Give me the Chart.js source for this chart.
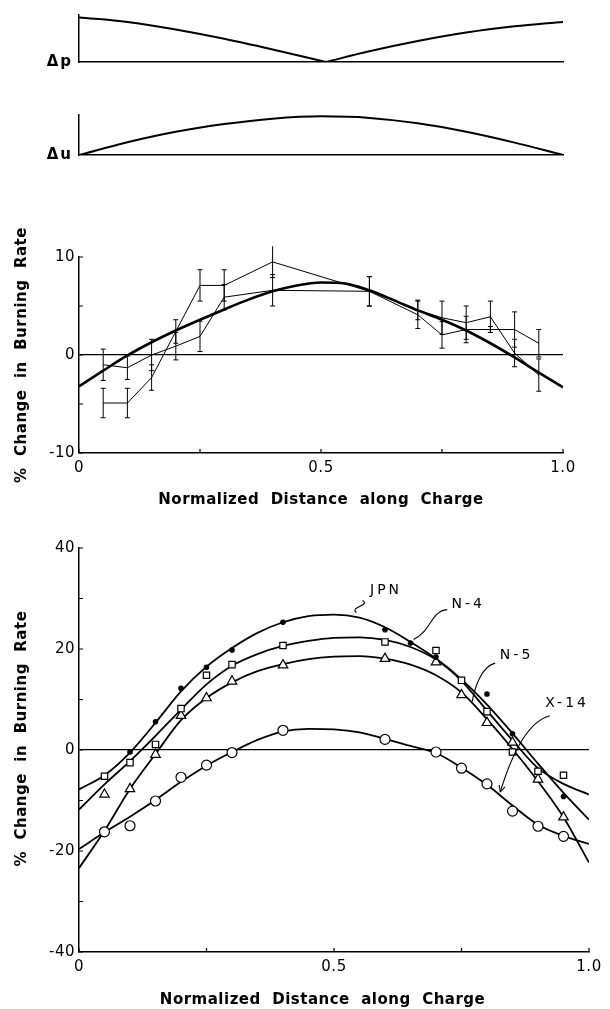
<!DOCTYPE html>
<html>
<head>
<meta charset="utf-8">
<script src="https://cdn.jsdelivr.net/npm/chart.js@4.4.1/dist/chart.umd.min.js"></script>
<style>
  html, body { margin: 0; padding: 0; background: #fff; }
  #wrap { position: relative; width: 610px; height: 1009px; overflow: hidden; }
  canvas { position: absolute; left: 0; }
</style>
</head>
<body>
<div id="wrap">
  <canvas id="dp" width="610" height="80" style="top:0px"></canvas>
  <canvas id="du" width="610" height="70" style="top:100px"></canvas>
  <canvas id="mid" width="610" height="320" style="top:200px"></canvas>
  <canvas id="low" width="610" height="479" style="top:530px"></canvas>
</div>
<script>
// top sketches: pressure and velocity amplitude along the charge
const dpLeftX = [0, 0.1, 0.2, 0.3, 0.4, 0.51];
const dpLeftY = [1.0, 0.9, 0.73, 0.52, 0.28, 0];
const dpRightX = [0.51, 0.6, 0.7, 0.8, 0.9, 1.0];
const dpRightY = [0, 0.24, 0.47, 0.66, 0.8, 0.9];
const duX = [0, 0.1, 0.2, 0.3, 0.4, 0.5, 0.6, 0.7, 0.8, 0.9, 1.0];
const duY = [0, 0.33, 0.6, 0.8, 0.94, 1.0, 0.96, 0.82, 0.6, 0.32, 0];

// middle panel: two runs with error bars and the fitted curve
const midX = [0.05, 0.1, 0.15, 0.2, 0.25, 0.3, 0.4, 0.6, 0.7, 0.75, 0.8, 0.85, 0.9, 0.95];
const runA = [-4.9, -4.9, -2.3, 2.4, 7.1, 7.1, 9.5, 6.5, 4.6, 3.8, 3.3, 3.9, 0.2, -2.05];
const errA = [1.5, 1.5, 1.3, 1.2, 1.6, 1.6, 1.6, 1.5, 1.0, 1.7, 1.7, 1.6, 1.4, 1.65];
const runB = [-1.0, -1.3, 0.0, 0.9, 1.9, 5.9, 6.6, 6.5, 4.1, 2.05, 2.6, 2.6, 2.6, 1.2];
const errB = [1.6, 1.2, 1.6, 1.4, 1.55, 1.3, 1.6, 1.5, 1.4, 1.35, 1.35, 0.3, 1.8, 1.4];
const fitX = [0, 0.05, 0.1, 0.15, 0.2, 0.25, 0.3, 0.35, 0.4, 0.45, 0.5, 0.55, 0.6, 0.65, 0.7, 0.75, 0.8, 0.85, 0.9, 0.95, 1.0];
const midFit = [-3.2, -1.6, -0.05, 1.3, 2.5, 3.6, 4.65, 5.65, 6.5, 7.1, 7.4, 7.3, 6.6, 5.6, 4.55, 3.6, 2.5, 1.2, -0.25, -1.8, -3.3];

// bottom panel: four propellants
const jpnX = [0.1, 0.15, 0.2, 0.25, 0.3, 0.4, 0.6, 0.65, 0.7, 0.8, 0.85, 0.95];
const jpnY = [-0.4, 5.6, 12.2, 16.4, 19.8, 25.3, 23.8, 21.2, 18.4, 11.1, 3.2, -9.2];
const n4Y = [-5.2, -2.5, 1.1, 8.2, 14.8, 16.9, 20.7, 21.4, 19.7, 13.8, 7.6, -0.4, -4.2, -5.0];
const n5Y = [-8.8, -7.7, -0.9, 6.8, 10.3, 13.6, 16.8, 18.1, 17.4, 10.9, 5.4, 1.5, -5.8, -13.3];
const x14Y = [-16.2, -15.0, -10.1, -5.4, -3.0, -0.5, 3.9, 2.1, -0.4, -3.6, -6.7, -12.1, -15.1, -17.1];
const jpnFit = [-7.8, -5.0, -0.5, 5.4, 11.6, 16.5, 20.2, 23.2, 25.3, 26.5, 26.8, 26.2, 24.3, 21.4, 18.1, 14.0, 9.0, 3.3, -2.7, -8.5, -13.8];
const n4Fit = [-11.8, -6.8, -2.2, 2.8, 8.0, 13.0, 16.7, 19.0, 20.6, 21.6, 22.2, 22.3, 21.8, 20.4, 17.9, 13.7, 7.8, 1.9, -3.6, -6.7, -8.8];
const n5Fit = [-23.4, -16.0, -7.7, -0.8, 5.9, 10.3, 13.4, 15.6, 17.0, 18.0, 18.5, 18.6, 18.1, 16.9, 14.8, 11.4, 6.1, 0.2, -6.2, -13.3, -22.3];
const x14Fit = [-19.6, -16.3, -13.2, -9.9, -6.3, -3.1, -0.4, 2.0, 3.7, 4.2, 4.1, 3.5, 2.2, 0.8, -0.6, -3.5, -6.9, -11.0, -14.8, -17.0, -18.6];

Chart.defaults.font.family = "'DejaVu Sans', sans-serif";
Chart.defaults.color = '#000';

const pts = (xs, ys) => xs.map((x, i) => ({ x: x, y: ys[i] }));

function barPts(xs, ys, es) {
  const out = [];
  xs.forEach((x, i) => {
    out.push({ x: x, y: ys[i] - es[i] }, { x: x, y: ys[i] + es[i] }, { x: x, y: null });
  });
  return out;
}

// letter spacing for the lettering
const spacing = {
  id: 'spacing',
  beforeDraw(chart, args, opts) {
    chart.ctx.letterSpacing = opts.px || '0px';
  }
};

// tick marks pointing into the plot
const inTicks = {
  id: 'inTicks',
  afterDraw(chart, args, opts) {
    if (!opts.len) return;
    const { ctx, chartArea, scales } = chart;
    ctx.save();
    ctx.strokeStyle = '#000';
    ctx.lineWidth = 1.2;
    ctx.beginPath();
    scales.y.ticks.forEach(t => {
      const py = scales.y.getPixelForValue(t.value);
      ctx.moveTo(chartArea.left, py);
      ctx.lineTo(chartArea.left + opts.len, py);
    });
    scales.x.ticks.forEach(t => {
      const px = scales.x.getPixelForValue(t.value);
      ctx.moveTo(px, chartArea.bottom);
      ctx.lineTo(px, chartArea.bottom - opts.len);
    });
    ctx.stroke();
    ctx.restore();
  }
};

// curve names with leader lines
const notes = {
  id: 'notes',
  afterDraw(chart, args, opts) {
    if (!opts.items) return;
    const { ctx, scales } = chart;
    const X = v => scales.x.getPixelForValue(v);
    const Y = v => scales.y.getPixelForValue(v);
    ctx.save();
    ctx.strokeStyle = '#000';
    ctx.fillStyle = '#000';
    ctx.lineWidth = 1.1;
    ctx.font = opts.font;
    ctx.letterSpacing = opts.spacing;
    ctx.textAlign = 'center';
    ctx.textBaseline = 'middle';
    opts.items.forEach(it => {
      ctx.fillText(it.text, X(it.at[0]), Y(it.at[1]));
      const p = it.path.map(q => [X(q[0]), Y(q[1])]);
      ctx.beginPath();
      ctx.moveTo(p[0][0], p[0][1]);
      ctx.bezierCurveTo(p[1][0], p[1][1], p[2][0], p[2][1], p[3][0], p[3][1]);
      ctx.stroke();
      if (it.arrow) {
        const a = Math.atan2(p[3][1] - p[2][1], p[3][0] - p[2][0]);
        ctx.beginPath();
        ctx.moveTo(p[3][0] - 7 * Math.cos(a - 0.45), p[3][1] - 7 * Math.sin(a - 0.45));
        ctx.lineTo(p[3][0], p[3][1]);
        ctx.lineTo(p[3][0] - 7 * Math.cos(a + 0.45), p[3][1] - 7 * Math.sin(a + 0.45));
        ctx.stroke();
      }
    });
    ctx.restore();
  }
};

const axisLine = { display: true, color: '#000', width: 1.5 };
const fmtX = v => (v === 0 ? '0' : v === 0.5 ? '0.5' : v === 1 ? '1.0' : '');
const zeroGrid = c => (c.tick && c.tick.value === 0 ? '#000' : 'rgba(0,0,0,0)');

function sketchOptions(label, ymax, padTop, xh) {
  return {
    responsive: false,
    animation: false,
    devicePixelRatio: 1,
    layout: { padding: { top: padTop, left: 0, right: 47, bottom: 0 } },
    plugins: { legend: { display: false }, tooltip: { enabled: false }, spacing: { px: '2px' } },
    scales: {
      x: {
        type: 'linear', min: 0, max: 1,
        grid: { display: false, drawTicks: false },
        ticks: { display: false },
        border: axisLine,
        afterFit: s => { s.height = xh; }
      },
      y: {
        type: 'linear', min: 0, max: ymax,
        grid: { display: false, drawTicks: false },
        border: axisLine,
        ticks: { padding: 6, font: { size: 15, weight: 'bold' }, callback: () => label },
        afterBuildTicks: s => { s.ticks = [{ value: 0 }]; },
        afterFit: s => { s.width = 79; }
      }
    }
  };
}

const sketchLine = { showLine: true, borderColor: '#000', borderWidth: 2, pointRadius: 0, cubicInterpolationMode: 'monotone' };

new Chart(document.getElementById('dp'), {
  type: 'scatter',
  data: {
    datasets: [
      Object.assign({ data: pts(dpLeftX, dpLeftY) }, sketchLine),
      Object.assign({ data: pts(dpRightX, dpRightY) }, sketchLine)
    ]
  },
  options: sketchOptions('Δp', 1.055, 10, 18),
  plugins: [spacing]
});

new Chart(document.getElementById('du'), {
  type: 'scatter',
  data: { datasets: [Object.assign({ data: pts(duX, duY) }, sketchLine)] },
  options: sketchOptions('Δu', 1.035, 10, 10),
  plugins: [spacing]
});

function panelOptions(o) {
  return {
    responsive: false,
    animation: false,
    devicePixelRatio: 1,
    layout: { padding: { top: o.padTop, left: 0, right: o.padRight, bottom: 0 } },
    plugins: {
      legend: { display: false },
      tooltip: { enabled: false },
      spacing: { px: '0.5px' },
      inTicks: { len: 4 },
      notes: o.notes || {}
    },
    scales: {
      x: {
        type: 'linear', min: 0, max: 1,
        grid: { display: false, drawTicks: false },
        border: axisLine,
        ticks: { stepSize: 0.25, padding: 6, autoSkip: false, maxRotation: 0, font: { size: 15 }, callback: fmtX },
        title: { display: true, text: o.xTitle, font: { size: 15, weight: 'bold' }, padding: { top: 0, bottom: o.xTitlePad } },
        afterFit: s => { s.height = o.xh; }
      },
      y: {
        type: 'linear', min: o.ymin, max: o.ymax,
        grid: { drawTicks: false, color: zeroGrid, lineWidth: 1.2 },
        border: axisLine,
        ticks: { stepSize: o.ystep, padding: 4, autoSkip: false, font: { size: 15 }, callback: v => (v % o.ylab === 0 ? String(v) : '') },
        title: { display: true, text: o.yTitle, font: { size: 15, weight: 'bold' }, padding: { top: 13, bottom: 0 } },
        afterFit: s => { s.width = 79; }
      }
    }
  };
}

const thin = { showLine: true, borderColor: '#000', borderWidth: 1, pointRadius: 0, tension: 0 };
const bars = { showLine: true, borderColor: '#000', borderWidth: 1, pointStyle: 'line', pointRadius: 2.5, pointBorderWidth: 1, pointBorderColor: '#000', clip: false };

new Chart(document.getElementById('mid'), {
  type: 'scatter',
  data: {
    datasets: [
      { data: pts(fitX, midFit), showLine: true, borderColor: '#000', borderWidth: 2.6, pointRadius: 0, cubicInterpolationMode: 'monotone' },
      Object.assign({ data: pts(midX, runA) }, thin),
      Object.assign({ data: pts(midX, runB) }, thin),
      Object.assign({ data: barPts(midX, runA, errA) }, bars),
      Object.assign({ data: barPts(midX, runB, errB) }, bars)
    ]
  },
  options: panelOptions({
    padTop: 57, padRight: 47, xh: 67, xTitlePad: 11,
    ymin: -10, ymax: 10, ystep: 5, ylab: 10,
    xTitle: 'Normalized  Distance  along  Charge',
    yTitle: '%  Change  in  Burning  Rate'
  }),
  plugins: [spacing, inTicks]
});

const curve = { showLine: true, borderColor: '#000', borderWidth: 1.8, pointRadius: 0, cubicInterpolationMode: 'monotone', order: 2 };
const mark = { showLine: false, borderColor: '#000', backgroundColor: '#fff', pointBorderWidth: 1.2, order: 1 };

new Chart(document.getElementById('low'), {
  type: 'scatter',
  data: {
    datasets: [
      Object.assign({ data: pts(fitX, jpnFit) }, curve),
      Object.assign({ data: pts(fitX, n4Fit) }, curve),
      Object.assign({ data: pts(fitX, n5Fit) }, curve),
      Object.assign({ data: pts(fitX, x14Fit) }, curve),
      Object.assign({ data: pts(jpnX, jpnY) }, mark, { pointStyle: 'circle', pointRadius: 2.2, backgroundColor: '#000' }),
      Object.assign({ data: pts(midX, n4Y) }, mark, { pointStyle: 'rect', pointRadius: 4.5 }),
      Object.assign({ data: pts(midX, n5Y) }, mark, { pointStyle: 'triangle', pointRadius: 5.5 }),
      Object.assign({ data: pts(midX, x14Y) }, mark, { pointStyle: 'circle', pointRadius: 5 })
    ]
  },
  options: panelOptions({
    padTop: 18, padRight: 21, xh: 57, xTitlePad: 0,
    ymin: -40, ymax: 40, ystep: 10, ylab: 20,
    xTitle: 'Normalized  Distance  along  Charge    ',
    yTitle: '    %  Change  in  Burning  Rate',
    notes: {
      font: "14px 'DejaVu Sans'",
      spacing: '3px',
      items: [
        { text: 'JPN', at: [0.602, 31.6], path: [[0.556, 29.6], [0.572, 28.6], [0.53, 28.4], [0.544, 27.2]] },
        { text: 'N-4', at: [0.763, 28.8], path: [[0.722, 27.8], [0.69, 27.6], [0.69, 23.4], [0.656, 21.9]] },
        { text: 'N-5', at: [0.858, 18.8], path: [[0.816, 17.2], [0.79, 16.6], [0.776, 12.5], [0.771, 9.6]] },
        { text: 'X-14', at: [0.957, 9.3], path: [[0.923, 6.8], [0.875, 5.5], [0.845, -2], [0.826, -8.3]], arrow: true }
      ]
    }
  }),
  plugins: [spacing, inTicks, notes]
});
</script>
</body>
</html>
